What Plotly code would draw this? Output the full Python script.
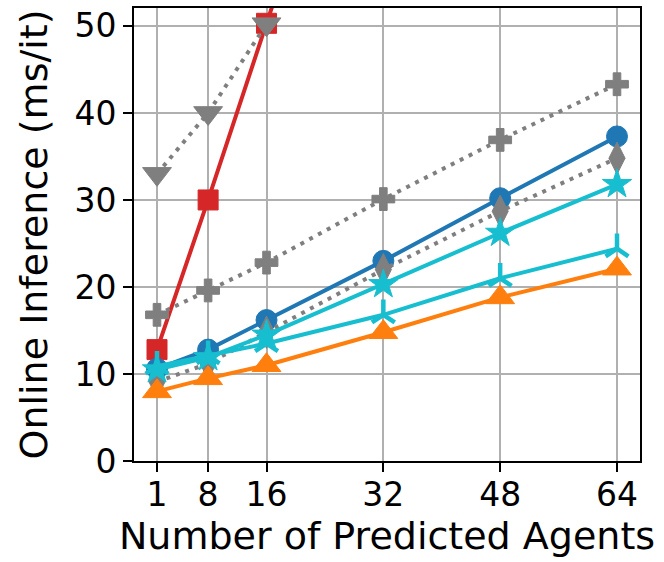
import plotly.graph_objects as go

agents = [1, 8, 16, 32, 48, 64]
tick_labels = ["1", "8", "16", "32", "48", "64"]

red_sq = [12.8, 30.0, 50.3, 90.0, 130.0, 170.0]
gray_tri_down = [33.0, 40.0, 50.2]
gray_plus = [16.8, 19.6, 22.8, 30.1, 36.9, 43.3]
gray_diamond = [9.1, 11.2, 14.8, 22.0, 28.7, 34.8]
blue_circle = [10.6, 12.8, 16.2, 23.0, 30.2, 37.3]
cyan_star = [10.5, 11.9, 14.5, 20.3, 26.2, 31.8]
cyan_tri = [10.9, 12.1, 13.5, 16.8, 21.0, 24.4]
orange_tri = [8.0, 9.5, 11.0, 14.8, 18.8, 22.1]

RED = "#d62728"
GRAY = "#7f7f7f"
BLUE = "#1f77b4"
CYAN = "#17becf"
ORANGE = "#ff7f0e"

fig = go.Figure()

def add(y, color, symbol, size, dash="solid", x=agents, line_marker=False):
    marker = dict(symbol=symbol, size=size, color=color)
    if line_marker:
        marker["line"] = dict(color=color, width=4.5)
    else:
        marker["line"] = dict(color=color, width=1)
    fig.add_trace(go.Scatter(
        x=x[:len(y)], y=y, mode="lines+markers",
        line=dict(color=color, width=4, dash=dash),
        marker=marker, cliponaxis=True, showlegend=False,
    ))

DOT = "4px,6px"
add(red_sq, RED, "square", 20)
add(blue_circle, BLUE, "circle", 21)
add(gray_tri_down, GRAY, "triangle-down", 25, dash=DOT)
add(gray_plus, GRAY, "cross", 19, dash=DOT)
add(gray_diamond, GRAY, "diamond-tall", 23, dash=DOT)
add(cyan_star, CYAN, "star", 22)
add(cyan_tri, CYAN, "y-up", 19, line_marker=True)
add(orange_tri, ORANGE, "triangle-up", 25)

tick_font = dict(family="DejaVu Sans", size=33, color="black")
title_font = dict(family="DejaVu Sans", size=38, color="black")

fig.update_layout(
    width=664, height=562,
    margin=dict(l=134, r=24, t=6, b=101),
    paper_bgcolor="white", plot_bgcolor="white",
    font=tick_font, showlegend=False,
)
fig.update_xaxes(
    range=[-2.15, 67.15], tickmode="array", tickvals=agents, ticktext=tick_labels,
    showline=True, mirror=True, linecolor="black", linewidth=2,
    showgrid=True, gridcolor="#b0b0b0", gridwidth=2, zeroline=False,
    ticks="outside", ticklen=9, tickwidth=2, tickcolor="black",
    tickfont=tick_font, ticklabelstandoff=-6,
    title=dict(text="Number of Predicted Agents", font=title_font, standoff=4),
)
fig.update_yaxes(
    range=[0, 52.06], tickmode="array", tickvals=[0, 10, 20, 30, 40, 50],
    showline=True, mirror=True, linecolor="black", linewidth=2,
    showgrid=True, gridcolor="#b0b0b0", gridwidth=2, zeroline=False,
    ticks="outside", ticklen=9, tickwidth=2, tickcolor="black",
    tickfont=tick_font,
    title=dict(text="Online Inference (ms/it)", font=title_font, standoff=15),
)

fig.write_html(
    "out.html",
    config={"displayModeBar": False},
    post_script="document.body.style.margin='0';document.body.style.overflow='hidden';",
)
